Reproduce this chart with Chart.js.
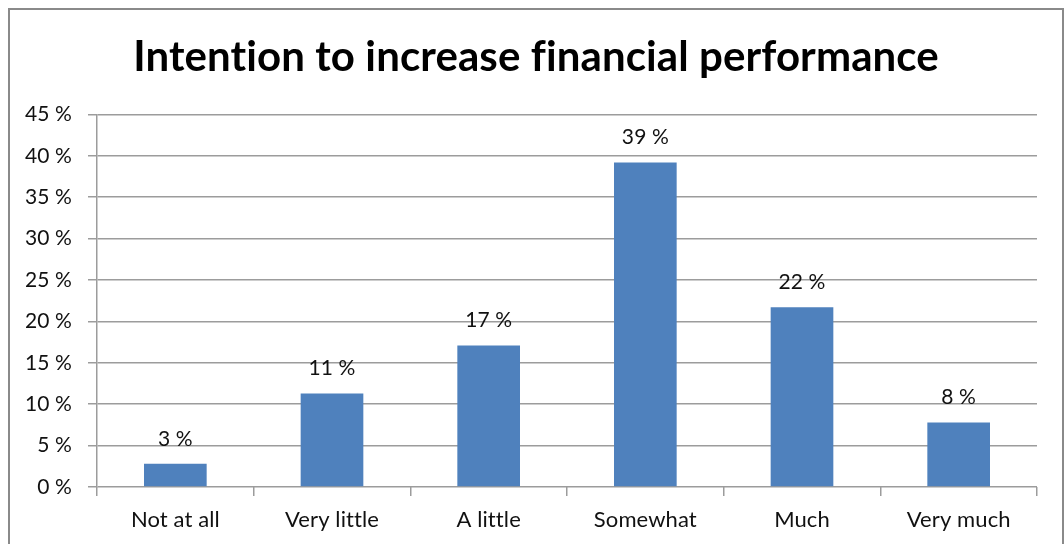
<!DOCTYPE html>
<html lang="en">
<head>
    <meta charset="UTF-8">
    <title>Intention to increase financial performance</title>
    <script src="https://cdn.jsdelivr.net/npm/chart.js"></script>
    <style>
        body { margin: 0; background: #fff; }
    </style>
</head>
<body>
    <canvas id="intentChart" width="1064" height="544"></canvas>

    <script>
        const categories = ['Not at all', 'Very little', 'A little', 'Somewhat', 'Much', 'Very much'];
        const shares = [2.8, 11.3, 17.1, 39.2, 21.7, 7.8];   // percent of respondents
        const shareLabels = ['3 %', '11 %', '17 %', '39 %', '22 %', '8 %'];
        const yTicks = [0, 5, 10, 15, 20, 25, 30, 35, 40, 45];

        const gridColor = '#9c9c9c';

        // outer frame around the whole chart
        const framePlugin = {
            id: 'frame',
            beforeDraw(chart) {
                const ctx = chart.ctx;
                // a tiny letter spacing switches off Lato's ti / fi ligatures
                ctx.letterSpacing = '0.1px';
                ctx.save();
                ctx.fillStyle = '#fff';
                ctx.fillRect(0, 0, chart.width, chart.height);
                ctx.strokeStyle = '#8a8a8a';
                ctx.lineWidth = 2;
                ctx.strokeRect(9, 9, 1054, 600);
                ctx.restore();
            }
        };

        // value labels above each bar
        const valueLabels = {
            id: 'valueLabels',
            afterDatasetsDraw(chart) {
                const ctx = chart.ctx;
                ctx.save();
                ctx.font = '21px Lato';
                ctx.fillStyle = '#111';
                ctx.textAlign = 'center';
                ctx.textBaseline = 'middle';
                chart.getDatasetMeta(0).data.forEach((bar, i) => {
                    ctx.fillText(shareLabels[i], bar.x, bar.y - 25);
                });
                ctx.restore();
            }
        };

        new Chart(document.getElementById('intentChart'), {
            type: 'bar',
            data: {
                labels: categories,
                datasets: [{
                    data: shares,
                    backgroundColor: '#4f81bd',
                    borderWidth: 0,
                    barPercentage: 0.4,
                    categoryPercentage: 1.0
                }]
            },
            options: {
                responsive: false,
                animation: false,
                layout: { padding: { left: 8, right: 0, top: 0, bottom: 0 } },
                plugins: {
                    legend: { display: false },
                    tooltip: { enabled: false },
                    title: {
                        display: true,
                        text: 'Intention to increase financial performance',
                        color: '#000',
                        font: { family: 'Lato', size: 42, weight: 'bold' },
                        padding: { top: 32, bottom: 32 }
                    }
                },
                scales: {
                    x: {
                        grid: {
                            offset: true,
                            drawOnChartArea: false,
                            drawTicks: true,
                            tickLength: 9,
                            color: gridColor,
                            lineWidth: 1.5
                        },
                        border: { display: false },
                        ticks: {
                            color: '#111',
                            font: { family: 'Lato', size: 22 },
                            padding: 11
                        },
                        afterFit(scale) { scale.height = 57; }
                    },
                    y: {
                        min: 0,
                        max: 45,
                        afterBuildTicks(scale) {
                            scale.ticks = yTicks.map(v => ({ value: v }));
                        },
                        grid: {
                            color: gridColor,
                            lineWidth: 1.5,
                            tickLength: 9
                        },
                        border: { color: gridColor, width: 1.5 },
                        ticks: {
                            color: '#111',
                            font: { family: 'Lato', size: 21 },
                            padding: 16,
                            callback: v => v + ' %'
                        },
                        afterFit(scale) { scale.width = 89; }
                    },
                    // empty right margin so the title centres on the whole frame
                    yRight: {
                        position: 'right',
                        display: true,
                        grid: { display: false },
                        border: { display: false },
                        ticks: { display: false },
                        afterFit(scale) { scale.width = 27; }
                    }
                }
            },
            plugins: [framePlugin, valueLabels]
        });
    </script>
</body>
</html>
